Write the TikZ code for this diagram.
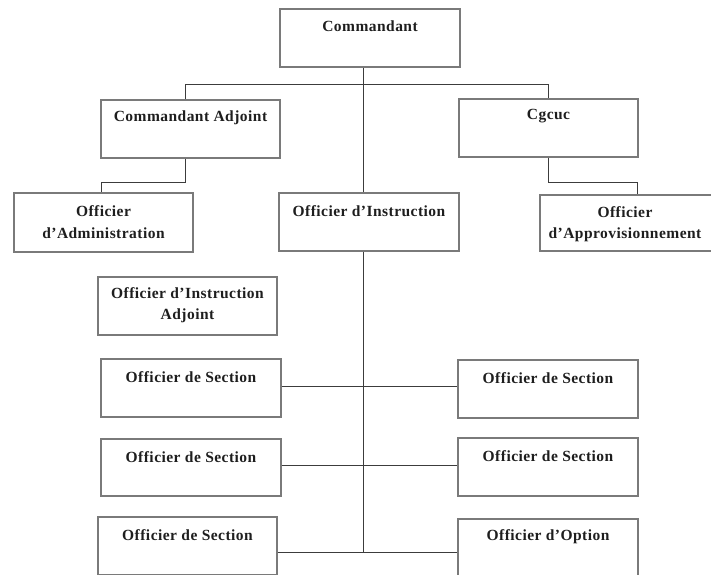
\documentclass[tikz,border=0pt]{standalone}
\usepackage{fontspec}
\setmainfont{Liberation Serif}
\newfontfamily\lblfont[LetterSpace=3]{Liberation Serif}
\definecolor{boxline}{HTML}{7A7A7A}
\definecolor{conline}{HTML}{3C3C3C}
\definecolor{txtcol}{HTML}{1E1E1E}
\begin{document}
\begin{tikzpicture}[x=1pt,y=-1pt,
  box/.style={draw=boxline,line width=1.3pt,inner sep=0pt,minimum width=179pt,minimum height=58pt},
  txt/.style={text=txtcol,font=\lblfont\bfseries\fontsize{15.5}{21.5}\selectfont,align=center,inner sep=0pt},
  con/.style={draw=conline,line width=0.9pt}]
\useasboundingbox (0,0) rectangle (711,574);
\clip (0,0) rectangle (711,574);
% boxes
\node[box,minimum width=180pt] (cmdt) at (370,38) {};
\node[box] (cadj) at (190.5,129) {};
\node[box] (cgcuc) at (548.5,128) {};
\node[box,minimum height=59pt] (oadm) at (103.5,222.5) {};
\node[box,minimum width=180pt] (oins) at (369,222) {};
\node[box,minimum width=180pt,minimum height=56pt] (oapp) at (630,223) {};
\node[box] (oinsadj) at (187.5,306) {};
\node[box,minimum width=180pt] (sl1) at (191,388) {};
\node[box,minimum width=180pt,minimum height=57pt] (sl2) at (191,467.5) {};
\node[box] (sl3) at (187.5,546) {};
\node[box,minimum width=180pt] (sr1) at (548,389) {};
\node[box,minimum width=180pt] (sr2) at (548,467) {};
\node[box,minimum width=180pt] (sr3) at (548,548) {};
% texts
\node[txt] (tcmdt) at ([yshift=-18pt]cmdt.north) {Commandant};
\node[txt] (tcadj) at ([yshift=-18pt]cadj.north) {Commandant Adjoint};
\node[txt] (tcgcuc) at ([yshift=-18pt]cgcuc.north) {Cgcuc};
\node[txt] (toadm) at ([yshift=-30pt]oadm.north) {Officier\\d’Administration};
\node[txt] (toins) at ([yshift=-19pt]oins.north) {Officier d’Instruction};
\node[txt] (toapp) at ([yshift=-30pt,xshift=-5pt]oapp.north) {Officier\\d’Approvisionnement};
\node[txt] (toinsadj) at ([yshift=-29pt]oinsadj.north) {Officier d’Instruction\\Adjoint};
\node[txt] (tsl1) at ([yshift=-18.5pt]sl1.north) {Officier de Section};
\node[txt] (tsl2) at ([yshift=-18.5pt]sl2.north) {Officier de Section};
\node[txt] (tsl3) at ([yshift=-18.5pt]sl3.north) {Officier de Section};
\node[txt] (tsr1) at ([yshift=-18.5pt]sr1.north) {Officier de Section};
\node[txt] (tsr2) at ([yshift=-18.5pt]sr2.north) {Officier de Section};
\node[txt] (tsr3) at ([yshift=-18.5pt]sr3.north) {Officier d’Option};
% junction coordinates
\coordinate (spine) at (363,0);
\coordinate (ja) at (185,84);
\coordinate (jb) at (548,84);
\coordinate (ka) at (101,182);
\coordinate (kb) at (637,182);
\coordinate (r1) at (0,386);
\coordinate (r2) at (0,465);
\coordinate (r3) at (0,552);
% connectors
\draw[con] (cmdt.south -| spine) -- (oins.north -| spine);
\draw[con] (cadj.north -| ja) -- (ja) -- (jb) -- (cgcuc.north -| jb);
\draw[con] (cadj.south -| ja) |- (ka) -- (oadm.north -| ka);
\draw[con] (cgcuc.south -| jb) |- (kb) -- (oapp.north -| kb);
\draw[con] (oins.south -| spine) -- (spine |- r3);
\draw[con] (sl1.east |- r1) -- (sr1.west |- r1);
\draw[con] (sl2.east |- r2) -- (sr2.west |- r2);
\draw[con] (sl3.east |- r3) -- (sr3.west |- r3);
\end{tikzpicture}
\end{document}
